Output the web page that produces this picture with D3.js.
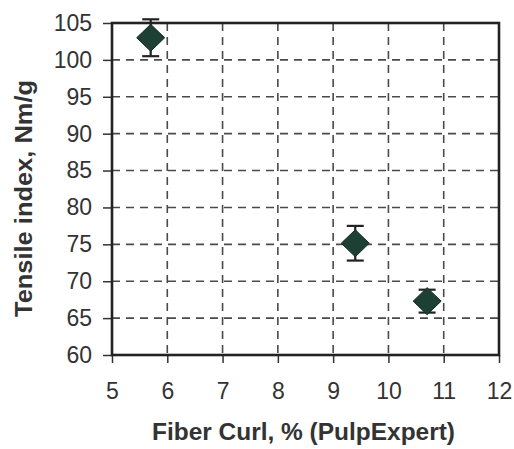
<!DOCTYPE html>
<html>
<head>
<meta charset="utf-8">
<script src="https://cdn.jsdelivr.net/npm/d3@7"></script>
<style>
body { margin: 0; background: #fff; }
text { font-family: "Liberation Sans", Arial, sans-serif; fill: #333; }
</style>
</head>
<body>
<div id="chart"></div>
<script>
// data
var curl = [5.7, 9.4, 10.7];
var tensile = [103.0, 75.15, 67.3];
var errBar = [2.5, 2.35, 1.55];
var xTicks = [5, 6, 7, 8, 9, 10, 11, 12];
var yTicks = [60, 65, 70, 75, 80, 85, 90, 95, 100, 105];

var W = 514, H = 449;
var margin = {top: 23, right: 15, bottom: 94, left: 112},
    width = W - margin.left - margin.right,
    height = H - margin.top - margin.bottom;

var x = d3.scaleLinear().domain([5, 12]).range([0, width]);
var y = d3.scaleLinear().domain([60, 105]).range([height, 0]);

var svg = d3.select("#chart").append("svg")
    .attr("width", W)
    .attr("height", H)
  .append("g")
    .attr("transform", `translate(${margin.left}, ${margin.top})`);

// dashed grid
svg.selectAll("line.hgrid")
    .data(yTicks.slice(1, -1)).enter()
  .append("line")
    .attr("x1", 0).attr("x2", width)
    .attr("y1", d => y(d)).attr("y2", d => y(d))
    .attr("stroke", "#4a4a4a").attr("stroke-width", 1.6)
    .attr("stroke-dasharray", "8,6");

svg.selectAll("line.vgrid")
    .data(xTicks.slice(1, -1)).enter()
  .append("line")
    .attr("y1", 0).attr("y2", height)
    .attr("x1", d => x(d)).attr("x2", d => x(d))
    .attr("stroke", "#4a4a4a").attr("stroke-width", 1.6)
    .attr("stroke-dasharray", "8,6");

// axes
var xAxis = svg.append("g")
    .attr("transform", `translate(0, ${height})`)
    .call(d3.axisBottom(x).tickValues(xTicks).tickFormat(d3.format("d")).tickSize(8).tickPadding(20));
var yAxis = svg.append("g")
    .call(d3.axisLeft(y).tickValues(yTicks).tickFormat(d3.format("d")).tickSize(9).tickPadding(11));

[xAxis, yAxis].forEach(a => {
    a.select(".domain").remove();
    a.selectAll("line").attr("stroke", "#333").attr("stroke-width", 1.5);
    a.selectAll("text")
        .style("font-size", "23px")
        .style("font-family", "'Liberation Sans', Arial, sans-serif")
        .attr("fill", "#333");
});

// frame
svg.append("rect")
    .attr("width", width).attr("height", height)
    .attr("fill", "none").attr("stroke", "#222").attr("stroke-width", 2.6);

// error bars
var pts = curl.map((c, i) => ({x: c, y: tensile[i], e: errBar[i]}));
var eb = svg.selectAll("g.err").data(pts).enter().append("g")
    .attr("stroke", "#222").attr("stroke-width", 2.2);
eb.append("line")
    .attr("x1", d => x(d.x)).attr("x2", d => x(d.x))
    .attr("y1", d => y(d.y + d.e)).attr("y2", d => y(d.y - d.e));
eb.append("line")
    .attr("x1", d => x(d.x) - 8.5).attr("x2", d => x(d.x) + 8.5)
    .attr("y1", d => y(d.y + d.e)).attr("y2", d => y(d.y + d.e));
eb.append("line")
    .attr("x1", d => x(d.x) - 8.5).attr("x2", d => x(d.x) + 8.5)
    .attr("y1", d => y(d.y - d.e)).attr("y2", d => y(d.y - d.e));

// diamonds
svg.selectAll("path.pt").data(pts).enter().append("path")
    .attr("d", "M0,-13.5L14,0L0,13.5L-14,0Z")
    .attr("transform", d => `translate(${x(d.x)}, ${y(d.y)})`)
    .attr("fill", "#1e3f34").attr("stroke", "#142a22").attr("stroke-width", 1);

// axis titles
svg.append("text")
    .attr("x", 40).attr("y", 440 - margin.top)
    .attr("textLength", 303).attr("lengthAdjust", "spacingAndGlyphs")
    .style("font-size", "23px").style("font-weight", "bold")
    .text("Fiber Curl, % (PulpExpert)");

svg.append("text")
    .attr("transform", "rotate(-90)")
    .attr("x", -(317 - margin.top)).attr("y", -80)
    .attr("textLength", 237).attr("lengthAdjust", "spacingAndGlyphs")
    .style("font-size", "23px").style("font-weight", "bold")
    .text("Tensile index, Nm/g");
</script>
</body>
</html>
